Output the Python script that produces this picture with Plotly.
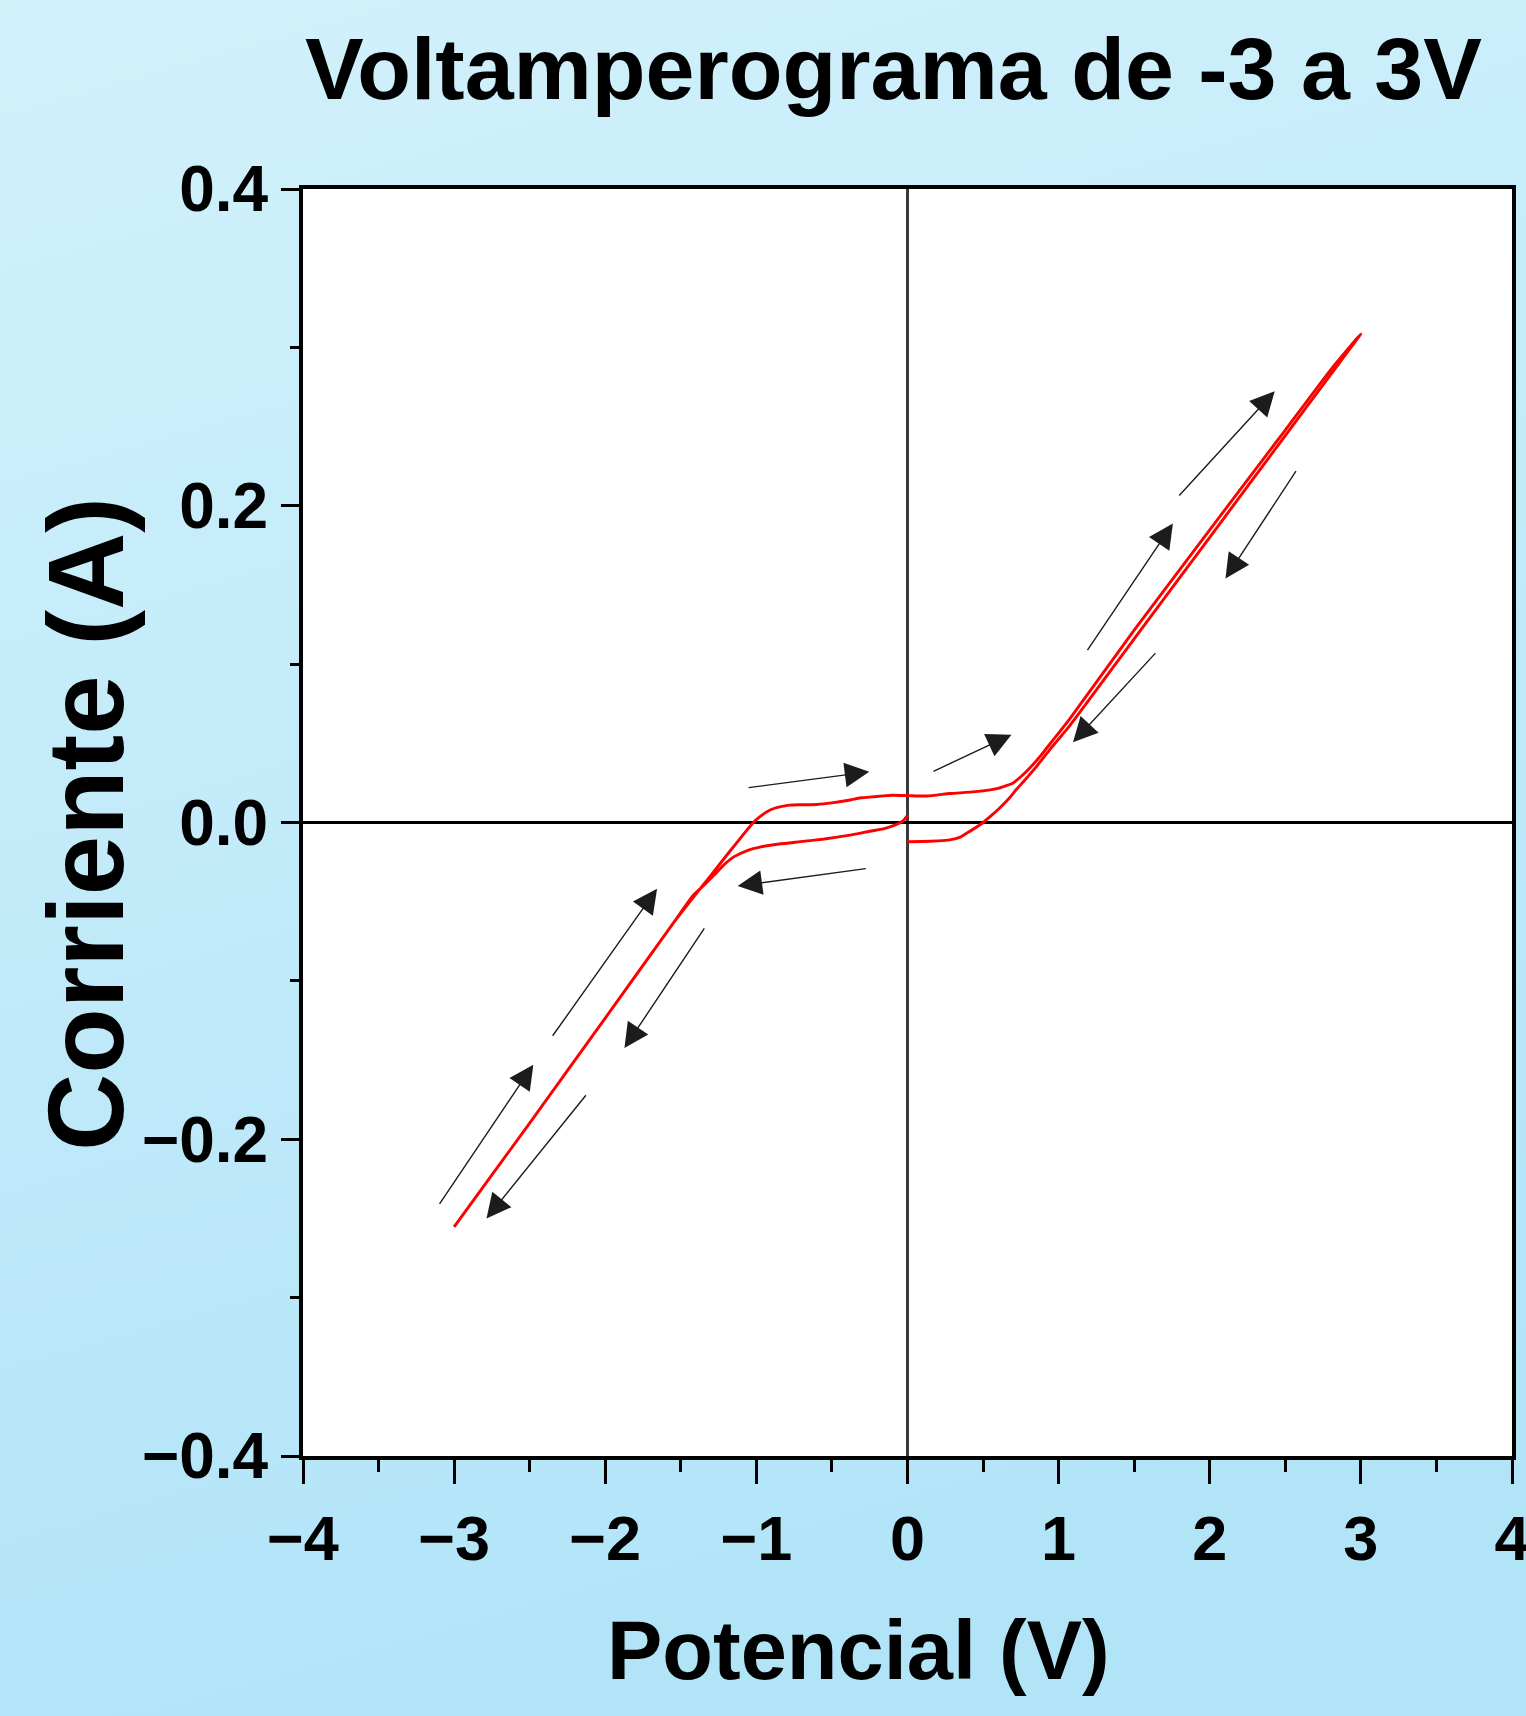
import base64
import plotly.graph_objects as go

# ---------------- data ----------------
# one continuous sweep: 0 V -> +3 V -> 0 V -> -3 V -> 0 V
potencial_v = [
    0.00, 0.10, 0.20, 0.28, 0.35, 0.41, 0.46, 0.50, 0.55, 0.61, 0.67, 0.72, 0.78, 0.85, 0.95, 1.07,
    1.50, 2.00, 2.50, 2.80, 3.00,
    2.80, 2.50, 2.00, 1.50, 1.07, 0.95, 0.88, 0.80, 0.74, 0.70, 0.65, 0.59, 0.45, 0.35, 0.28, 0.13, 0.00,
    -0.10, -0.16, -0.25, -0.31, -0.38, -0.50, -0.60, -0.70, -0.78, -0.83, -0.88, -0.93, -0.98, -1.02,
    -1.06, -1.10, -1.17, -1.305, -1.42, -1.55, -2.00, -2.50, -3.00,
    -2.50, -2.00, -1.55, -1.42, -1.34, -1.28, -1.22, -1.15, -1.06, -0.97, -0.85, -0.71, -0.55,
    -0.38, -0.31, -0.25, -0.16, -0.08, -0.03, 0.00,
]
corriente_a = [
    -0.0122, -0.0120, -0.0116, -0.0110, -0.0092, -0.0057, -0.0027, 0.0000, 0.0040, 0.0092, 0.0150,
    0.0208, 0.0272, 0.0350, 0.0470, 0.0607,
    0.1160, 0.1801, 0.2443, 0.2828, 0.3085,
    0.2858, 0.2478, 0.1848, 0.1215, 0.0650, 0.0505, 0.0420, 0.0335, 0.0281, 0.0250, 0.0232,
    0.0214, 0.0195, 0.0187, 0.0183, 0.0167, 0.0170,
    0.0172, 0.0168, 0.0160, 0.0156, 0.0142, 0.0124, 0.0114, 0.0112, 0.0110, 0.0102, 0.0090,
    0.0068, 0.0034, 0.0000,
    -0.0045, -0.0092, -0.0175, -0.0338, -0.0475, -0.0635, -0.1235, -0.1898, -0.2553,
    -0.1898, -0.1235, -0.0635, -0.0462, -0.0390, -0.0332, -0.0272, -0.0217, -0.0177, -0.0154,
    -0.0136, -0.0121, -0.0104, -0.0080, -0.0067, -0.0055, -0.0040, -0.0015, 0.0010, 0.0045,
]

# sweep-direction arrows (tail -> head)
arrow_tail_v = [-1.062, -0.266, 0.162, -2.355, -3.103, -1.338, -2.120, 1.789, 1.184, 2.577, 1.650]
arrow_tail_i = [0.0219, -0.0290, 0.0319, -0.1356, -0.2417, -0.0659, -0.1713, 0.2055, 0.1079, 0.2228, 0.1079]
arrow_head_v = [-0.253, -1.124, 0.688, -1.657, -2.476, -1.873, -2.786, 2.430, 1.756, 2.104, 1.095]
arrow_head_i = [0.0320, -0.0401, 0.0554, -0.0418, -0.1529, -0.1424, -0.2501, 0.2723, 0.1888, 0.1541, 0.0506]

x_tick_vals = [-4, -3, -2, -1, 0, 1, 2, 3, 4]
x_tick_text = ["\u22124", "\u22123", "\u22122", "\u22121", "0", "1", "2", "3", "4"]
y_tick_vals = [-0.4, -0.2, 0.0, 0.2, 0.4]
y_tick_text = ["\u22120.4", "\u22120.2", "0.0", "0.2", "0.4"]

title_text = "Voltamperograma de -3 a 3V"
x_title = "Potencial (V)"
y_title = "Corriente (A)"

# ---------------- layout geometry / style ----------------
W, H = 1526, 1716
ML, MR, MT, MB = 303, 14, 189, 260
FONT = "Liberation Sans, Arial, sans-serif"

svg = (
    '<svg xmlns="http://www.w3.org/2000/svg" width="100" height="100" preserveAspectRatio="none">'
    '<defs><linearGradient id="g" x1="0" y1="0" x2="0.25" y2="1">'
    '<stop offset="0" stop-color="#D2F1FB"/><stop offset="1" stop-color="#B2E4F8"/>'
    '</linearGradient></defs><rect width="100" height="100" fill="url(#g)"/></svg>'
)
bg_src = "data:image/svg+xml;base64," + base64.b64encode(svg.encode()).decode()

fig = go.Figure()
fig.add_trace(go.Scatter(
    x=potencial_v, y=corriente_a, mode="lines",
    line=dict(color="#FF0000", width=2.9, shape="spline", smoothing=0.5),
    hoverinfo="skip", showlegend=False,
))

pw = W - ML - MR
ph = H - MT - MB

annotations = []
for tv, ti, hv, hi in zip(arrow_tail_v, arrow_tail_i, arrow_head_v, arrow_head_i):
    annotations.append(dict(
        x=hv, y=hi, ax=tv, ay=ti, xref="x", yref="y", axref="x", ayref="y",
        text="", showarrow=True, arrowhead=2, arrowsize=3.5, arrowwidth=1.4,
        arrowcolor="#1c1c1c", standoff=0,
    ))

annotations.append(dict(
    text=title_text, xref="paper", yref="paper", x=(893 - ML) / pw, y=(MT + ph - 69) / ph,
    xanchor="center", yanchor="middle", showarrow=False,
    font=dict(family=FONT, size=88, color="black", weight="bold"),
))
annotations.append(dict(
    text=x_title, xref="paper", yref="paper", x=(858 - ML) / pw, y=(MT + ph - 1650) / ph,
    xanchor="center", yanchor="middle", showarrow=False,
    font=dict(family=FONT, size=83, color="black", weight="bold"),
))
annotations.append(dict(
    text=y_title, xref="paper", yref="paper", x=(86 - ML) / pw, y=(MT + ph - 824) / ph,
    xanchor="center", yanchor="middle", showarrow=False, textangle=-90,
    font=dict(family=FONT, size=107, color="black", weight="bold"),
))

fig.update_layout(
    width=W, height=H,
    margin=dict(l=ML, r=MR, t=MT, b=MB, pad=0),
    paper_bgcolor="#C2EAF9",
    plot_bgcolor="white",
    images=[dict(
        source=bg_src, xref="paper", yref="paper",
        x=-ML / pw, y=(ph + MT) / ph, sizex=W / pw, sizey=H / ph,
        xanchor="left", yanchor="top", sizing="stretch", layer="below",
    )],
    shapes=[dict(
        type="rect", xref="paper", yref="paper", x0=0, x1=1, y0=0, y1=1,
        fillcolor="white", line=dict(width=0), layer="below",
    )],
    annotations=annotations,
    showlegend=False,
)

fig.update_xaxes(
    range=[-4, 4], tickmode="array", tickvals=x_tick_vals, ticktext=x_tick_text,
    showgrid=False, showline=True, linecolor="black", linewidth=4, mirror=True,
    ticks="outside", ticklen=24, tickwidth=3, tickcolor="black",
    minor=dict(tickmode="linear", tick0=0, dtick=0.5, ticks="outside", ticklen=12,
               tickwidth=3, tickcolor="black"),
    tickfont=dict(family=FONT, size=63, color="black", weight="bold"),
    zeroline=True, zerolinecolor="#3a3a3a", zerolinewidth=2.5,
    ticklabelstandoff=0, ticklabeloverflow="allow", automargin=False,
)
fig.update_yaxes(
    range=[-0.4, 0.4], tickmode="array", tickvals=y_tick_vals, ticktext=y_tick_text,
    showgrid=False, showline=True, linecolor="black", linewidth=4, mirror=True,
    ticks="outside", ticklen=18, tickwidth=3, tickcolor="black",
    minor=dict(tickmode="linear", tick0=0, dtick=0.1, ticks="outside", ticklen=9,
               tickwidth=3, tickcolor="black"),
    tickfont=dict(family=FONT, size=64, color="black", weight="bold"),
    zeroline=True, zerolinecolor="black", zerolinewidth=3,
    ticklabelstandoff=0, ticklabeloverflow="allow", automargin=False,
)

fig.write_html("out.html")
